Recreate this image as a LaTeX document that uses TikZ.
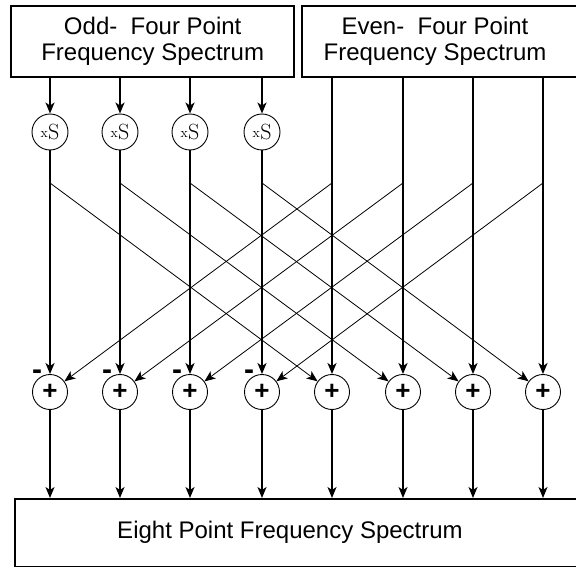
\documentclass[tikz,border=0pt]{standalone}
\usepackage{fontspec}
\setsansfont{Liberation Sans}
\usepackage{tikz}
\usetikzlibrary{arrows.meta,positioning,calc}
\newcommand{\specfont}{\sffamily\fontsize{24}{26}\selectfont}
\tikzset{
  specbox/.style={rectangle, draw, line width=2.4pt, inner sep=0pt, anchor=north west},
  spectext/.style={font=\specfont, align=center, inner sep=0pt},
  mulnode/.style={circle, draw, line width=0.9pt, minimum size=36pt, inner sep=0pt,
                  font=\rmfamily\fontsize{22}{22}\selectfont},
  addnode/.style={circle, draw, line width=0.9pt, minimum size=35pt, inner sep=0pt,
                  font=\sffamily\bfseries\fontsize{26}{26}\selectfont},
  minus/.style={inner sep=0pt, font=\sffamily\bfseries\fontsize{30}{30}\selectfont},
  sigarrow/.style={-{Stealth[length=11pt, width=9pt, inset=3pt]}, line width=1.8pt},
  crossarrow/.style={-{Stealth[length=11pt, width=9pt, inset=3pt]}, line width=0.8pt},
}
\begin{document}
\begin{tikzpicture}[x=1pt, y=-1pt]
\useasboundingbox (0,0) rectangle (576,567);

% input and output spectra
\node[specbox, minimum width=283pt, minimum height=71pt] (odd) at (10,5) {};
\node[spectext] (oddlabel) at (odd.center) {Odd-~ Four Point\\Frequency Spectrum};
\node[specbox, minimum width=290pt, minimum height=71pt] (even) at (301,5) {};
\node[spectext] (evenlabel) at (435,41) {Even-~ Four Point\\Frequency Spectrum};
\node[specbox, minimum width=572pt, minimum height=68pt] (out) at (14,498) {};
\node[spectext] (outlabel) at (290,532) {Eight Point Frequency Spectrum};

% branch points, multipliers and adders
\foreach \xk [count=\k] in {50,120,190,262,332,403,473,543}
  \coordinate (b\k) at (\xk,183);
\foreach \k in {1,...,4}
  \node[mulnode] (s\k) at (b\k |- 0,132)
    {\raisebox{2.5pt}{\fontsize{14}{14}\selectfont x}\kern0.5pt S};
\foreach \k in {1,...,8}
  \node[addnode] (p\k) at (b\k |- 0,392) {+};
\foreach \k in {1,...,4}
  \node[minus] at ($(p\k)+(-13,-17)$) {-};

% signal flow
\foreach \k in {1,...,4} {
  \draw[sigarrow] (s\k |- odd.south) -- (s\k);
  \draw[sigarrow] (s\k) -- (p\k);
}
\foreach \k in {5,...,8}
  \draw[sigarrow] (p\k |- even.south) -- (p\k);
\foreach \k in {1,...,8}
  \draw[sigarrow] (p\k) -- (p\k |- out.north);
\foreach \a/\b in {1/5, 2/6, 3/7, 4/8} {
  \draw[crossarrow] (b\a) -- (p\b);
  \draw[crossarrow] (b\b) -- (p\a);
}
\end{tikzpicture}
\end{document}
